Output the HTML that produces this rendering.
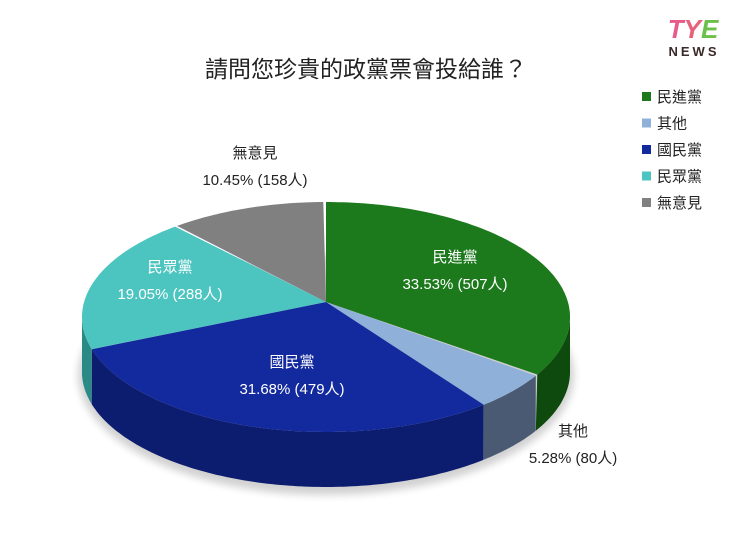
<!DOCTYPE html>
<html><head><meta charset="utf-8">
<style>
body{margin:0;background:#fff;}
svg{display:block;font-family:"Liberation Sans","Noto Sans CJK TC",sans-serif;}
</style></head>
<body>
<svg id="chart" width="740" height="557" viewBox="0 0 740 557">
  <defs>
    <filter id="sh" x="-10%" y="-10%" width="120%" height="130%"><feGaussianBlur stdDeviation="4"/></filter>
  </defs>
  <g>
    <text x="693" y="38" text-anchor="middle" font-size="26" font-weight="bold" font-style="italic" fill="#e85a8a">T<tspan fill="#e8607a">Y</tspan><tspan fill="#6cc04a">E</tspan></text>
    <text x="694" y="56" text-anchor="middle" font-size="13" font-weight="bold" fill="#3a2a2a" letter-spacing="3">NEWS</text>
  </g>
  <text x="366" y="77" text-anchor="middle" font-size="23" fill="#222">請問您珍貴的政黨票會投給誰？</text>
  <ellipse cx="326" cy="375" rx="248" ry="120" fill="#000" opacity="0.18" filter="url(#sh)"/>
  <g id="sides"></g>
  <g id="tops"></g>
  <g id="labels"></g>
  <g id="legend"></g>
</svg>
<script>
const categories = ["民進黨","其他","國民黨","民眾黨","無意見"];
const percents = [33.53, 5.28, 31.68, 19.05, 10.45];
const counts = [507, 80, 479, 288, 158];
const colors = ["#1c7a1c","#8fb0d8","#132a9e","#4cc4c0","#808080"];
const sideColors = ["#0e4a0e","#4a5a72","#0c1c6e","#2a8a86","#505050"];
const labelPos = [[455,262],[573,436],[292,367],[170,272],[255,158]];
const labelColors = ["#fff","#222","#fff","#fff","#222"];

const NS="http://www.w3.org/2000/svg";
const cx=326, cy=317, rx=244, ry=115, depth=55, apx=326, apy=302;
function pt(t,dy){const a=t*Math.PI/180;return [cx+rx*Math.sin(a), cy-ry*Math.cos(a)+(dy||0)];}
function mk(tag,attrs,parent){const e=document.createElementNS(NS,tag);for(const k in attrs)e.setAttribute(k,attrs[k]);parent.appendChild(e);return e;}
const total=percents.reduce((a,b)=>a+b,0);
let acc=0;
const sides=document.getElementById('sides'),tops=document.getElementById('tops'),labels=document.getElementById('labels'),legend=document.getElementById('legend');
percents.forEach((p,i)=>{
  const t1=acc/total*360, t2=(acc+p)/total*360; acc+=p;
  const s1=Math.max(t1,90), s2=Math.min(t2,270);
  if(s2>s1){
    let d="";
    for(let t=s1;t<=s2+0.001;t+=1){const q=pt(Math.min(t,s2));d+=(d?"L":"M")+q[0].toFixed(1)+","+q[1].toFixed(1);}
    for(let t=s2;t>=s1-0.001;t-=1){const q=pt(Math.max(t,s1),depth);d+="L"+q[0].toFixed(1)+","+q[1].toFixed(1);}
    const sp=mk('path',{d:d+"Z",fill:sideColors[i]},sides);
    
    
  }
  let d="M"+apx+","+apy;
  for(let t=t1;t<=t2+0.001;t+=1){const q=pt(Math.min(t,t2));d+="L"+q[0].toFixed(1)+","+q[1].toFixed(1);}
  const tp=mk('path',{d:d+"Z",fill:colors[i]},tops);
  
  
  const lp=labelPos[i];
  const l1=mk('text',{x:lp[0],y:lp[1],'text-anchor':'middle','font-size':15,fill:labelColors[i]},labels);
  l1.textContent=categories[i];
  
  
  const l2=mk('text',{x:lp[0],y:lp[1]+27,'text-anchor':'middle','font-size':15,fill:labelColors[i]},labels);
  l2.textContent=percents[i].toFixed(2)+"% ("+counts[i]+"人)";
  
  
  const ly=97+i*26.5;
  const r=mk('rect',{x:642,y:ly-5,width:9,height:9,fill:colors[i]},legend);
  
  
  const lt=mk('text',{x:657,y:ly+5,'font-size':15,fill:'#222'},legend);
  lt.textContent=categories[i];
  
  
});
</script>
</body></html>
